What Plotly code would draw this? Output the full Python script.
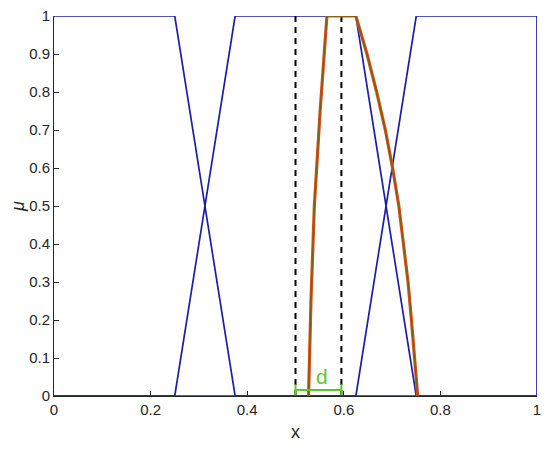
import plotly.graph_objects as go

# membership functions (trapezoids)
mf1_x = [0, 0.25, 0.375, 1]
mf1_y = [1, 1, 0, 0]
mf2_x = [0, 0.25, 0.375, 0.625, 0.75, 1]
mf2_y = [0, 0, 1, 1, 0, 0]
mf3_x = [0, 0.625, 0.75, 1, 1]
mf3_y = [0, 0, 1, 1, 0]

# result curve
res_x = [0.527, 0.532, 0.539, 0.551, 0.565,
         0.625, 0.648, 0.668, 0.686, 0.701, 0.714, 0.724, 0.733, 0.740, 0.747, 0.753]
res_y = [0, 0.25, 0.5, 0.75, 1,
         1, 0.9, 0.8, 0.7, 0.6, 0.5, 0.4, 0.3, 0.2, 0.1, 0]

# dashed bounds and distance d
bounds = [0.5, 0.595]
d_level = 0.016

blue = "rgb(30,30,170)"
green = "rgb(95,200,35)"
fig = go.Figure()
for xs, ys in [(mf1_x, mf1_y), (mf2_x, mf2_y), (mf3_x, mf3_y)]:
    fig.add_trace(go.Scatter(x=xs, y=ys, mode="lines", line=dict(color=blue, width=1.7)))

for b in bounds:
    fig.add_trace(go.Scatter(x=[b, b], y=[0, 1], mode="lines",
                             line=dict(color="black", width=2, dash="6px,5px")))

fig.add_trace(go.Scatter(x=res_x, y=res_y, mode="lines", line=dict(color="rgb(215,85,30)", width=3.2)))
fig.add_trace(go.Scatter(x=res_x, y=res_y, mode="lines", line=dict(color="rgb(125,95,20)", width=1.4)))

fig.add_trace(go.Scatter(x=bounds, y=[d_level, d_level], mode="lines+markers",
                         line=dict(color=green, width=2),
                         marker=dict(symbol="line-ns-open", size=8, line=dict(color=green, width=2))))
fig.add_annotation(x=0.555, y=0.052, text="d", showarrow=False,
                   font=dict(family="Liberation Sans", size=21, color=green))

# page body has an 8px margin, so the figure is offset by that
fig.update_layout(
    width=550, height=452, showlegend=False,
    plot_bgcolor="white", paper_bgcolor="white",
    margin=dict(l=46, r=21, t=8, b=64),
    font=dict(family="Liberation Sans", size=15, color="rgb(38,38,38)"),
)
fig.update_xaxes(range=[0, 1], tickvals=[0, 0.2, 0.4, 0.6, 0.8, 1],
                 ticktext=["0", "0.2", "0.4", "0.6", "0.8", "1"],
                 ticks="inside", ticklen=5, tickcolor="rgb(38,38,38)", automargin=False,
                 ticklabeloverflow="allow", layer="below traces",
                 showline=True, linecolor="rgb(38,38,38)", showgrid=False, zeroline=False,
                 title=dict(text="x", font=dict(size=18), standoff=8))
fig.update_yaxes(range=[0, 1], tickvals=[i / 10 for i in range(11)],
                 ticktext=["0", "0.1", "0.2", "0.3", "0.4", "0.5", "0.6", "0.7", "0.8", "0.9", "1"],
                 ticks="inside", ticklen=5, tickcolor="rgb(38,38,38)", automargin=False,
                 ticklabeloverflow="allow", layer="below traces",
                 showline=True, linecolor="rgb(38,38,38)", showgrid=False, zeroline=False,
                 title=dict(text="<i>μ</i>", font=dict(size=18), standoff=4))

fig.write_html("out.html")
